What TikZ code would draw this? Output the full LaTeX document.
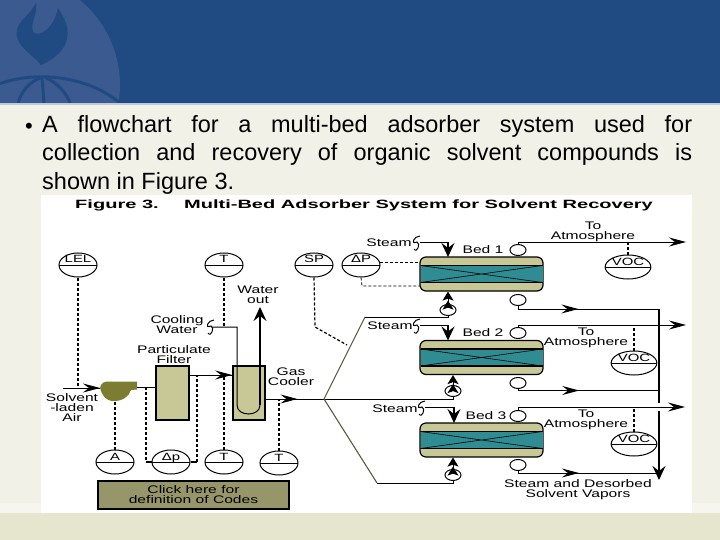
\documentclass[tikz,border=0pt]{standalone}
\usepackage{fontspec}
\usepackage{xcolor}
\usepackage{tikz}
\usetikzlibrary{arrows.meta,positioning,calc,shapes.geometric,decorations.markings}
\setmainfont{Liberation Sans}
\newfontfamily\figfont[FakeStretch=1.42]{Liberation Sans}
\newfontfamily\titlefont[FakeStretch=1.67]{Liberation Sans}
\definecolor{headblue}{RGB}{31,74,130}
\definecolor{logoblue}{RGB}{58,90,144}
\definecolor{bodycream}{RGB}{241,241,231}
\definecolor{stripcream}{RGB}{246,246,238}
\definecolor{footcream}{RGB}{230,230,207}
\definecolor{bedtan}{RGB}{200,200,150}
\definecolor{bedteal}{RGB}{46,140,146}
\definecolor{blowerolive}{RGB}{125,125,50}
\definecolor{buttonolive}{RGB}{151,150,106}
\definecolor{splitgrey}{RGB}{90,90,65}
\tikzset{
  pipe/.style={draw=black,line width=1pt},
  thickpipe/.style={draw=black,line width=1.7pt},
  signal/.style={draw=black,line width=1.2pt,dash pattern=on 3pt off 2pt},
  splitline/.style={draw=splitgrey,line width=1.1pt},
  lbl/.style={font=\figfont\fontsize{11}{10}\selectfont,align=center,inner sep=0pt},
  gauge/.style={ellipse,draw=black,line width=1pt,fill=white,minimum width=38pt,minimum height=24pt,inner sep=0pt,
    font=\figfont\fontsize{10.5}{10.5}\selectfont,
    path picture={\draw[line width=1pt] (path picture bounding box.west)--(path picture bounding box.east);}},
  valve/.style={ellipse,draw=black,line width=1pt,fill=white,minimum width=16pt,minimum height=11pt,inner sep=0pt},
  bedbox/.style={draw=black,line width=1.2pt,fill=bedtan,rounded corners=6pt,minimum width=123pt,minimum height=34pt,inner sep=0pt},
  midarrow/.style={postaction={decorate},decoration={markings,mark=at position #1 with {\arrow{Stealth[length=17pt,width=9pt,inset=6pt]}}}},
  tipflow/.style={-{Stealth[length=17pt,width=9pt,inset=6pt]}},
  tipdown/.style={-{Stealth[length=14pt,width=13pt,inset=5pt]}},
  tipin/.style={-{Stealth[length=9pt,width=11pt,inset=2pt]Stealth[length=9pt,width=11pt,inset=2pt]}}
}
\newcommand{\gaugenode}[3]{\node[gauge] (#1) at #2 {\raisebox{2pt}[0pt][0pt]{#3}};}
\newcommand{\steamsign}[1]{\draw[line width=1pt] #1 ++(3,-7) .. controls ++(-6,0) and ++(-7,3) .. ++(-3,6) .. controls ++(4,1) and ++(3,5) .. ++(-3,7);}
\newcommand{\bedunit}[2]{
\node[bedbox] (#1) at (481.5,#2) {};
\fill[bedteal] (420.5,#2-8.5) rectangle (542.5,#2+8.5);
\draw[line width=1.7pt] (420.5,#2-8.5) -- (542.5,#2-8.5) (420.5,#2+8.5) -- (542.5,#2+8.5);
\draw[line width=0.6pt] (420.5,#2-8.5) -- (542.5,#2+8.5) (420.5,#2+8.5) -- (542.5,#2-8.5);
}
\begin{document}
\begin{tikzpicture}[x=1pt,y=-1pt]
\useasboundingbox (0,0) rectangle (720,540);
\fill[bodycream] (0,0) rectangle (720,540);
\fill[stripcream] (0,503) rectangle (720,513);
\fill[footcream] (0,513) rectangle (720,540);
\fill[headblue] (0,0) rectangle (720,103);
\fill[white!70!headblue] (0,103) rectangle (720,105);
\begin{scope}
\clip (0,0) rectangle (720,103);
\fill[logoblue] (10,85) circle (110);
\fill[headblue] (41,65) .. controls (30,52) and (14,45) .. (17,30) .. controls (19,20) and (30,15) .. (36,3)
  .. controls (38,14) and (30,22) .. (33,32) .. controls (40,38) and (54,28) .. (58,8)
  .. controls (72,28) and (74,50) .. (41,65) -- cycle;
\draw[headblue,line width=3pt] (-10,88) .. controls (20,72) and (80,70) .. (120,103);
\draw[headblue,line width=3pt] (42,77) -- (44,103) (18,103) .. controls (22,90) and (30,82) .. (40,78) (70,103) .. controls (66,92) and (56,82) .. (46,78);
\end{scope}
\node[font=\fontsize{22}{28.5}\selectfont,inner sep=0pt] (bulletmark) at (29,128) {•};
\node[font=\fontsize{23.5}{28.5}\selectfont,text width=650pt,align=justify,inner sep=0pt,anchor=north west] (bodytext) at (42,115)
  {A flowchart for a multi-bed adsorber system used for\linebreak collection and recovery of organic solvent compounds is\linebreak shown in Figure 3.};
\fill[white] (41,195) rectangle (692,513);
\node[font=\titlefont\bfseries\fontsize{12}{12}\selectfont,inner sep=0pt] (figno) at (117,205) {Figure 3.};
\node[font=\titlefont\bfseries\fontsize{12}{12}\selectfont,inner sep=0pt] (figtitle) at (418.5,205) {Multi-Bed Adsorber System for Solvent Recovery};

\bedunit{bedA}{274}
\bedunit{bedB}{357.5}
\bedunit{bedC}{440}

\fill[bedtan,draw=black,line width=1.2pt] (156,366) rectangle (189,420);
\fill[bedtan,draw=black,line width=1.2pt] (233,366) rectangle (265,420);
\fill[blowerolive] (100,388) .. controls (101,383) and (104,381.5) .. (108,381.5) -- (137,381.5) -- (137,389.5) -- (131,390)
  .. controls (129,397) and (122,401) .. (114,401) .. controls (105,401) and (102,395) .. (100,388) -- cycle;
\coordinate (blowerin) at (100,388);
\coordinate (blowerout) at (137,387);

\gaugenode{lel}{(78,265)}{LEL}
\gaugenode{tempA}{(224,265)}{T}
\gaugenode{sp}{(314,265)}{SP}
\gaugenode{dpA}{(361,265)}{ΔP}
\gaugenode{vocA}{(628,267)}{VOC}
\gaugenode{vocB}{(634,363)}{VOC}
\gaugenode{vocC}{(634,444)}{VOC}
\gaugenode{amp}{(115,462)}{A}
\gaugenode{dpB}{(171,462)}{Δp}
\gaugenode{tempB}{(224,462)}{T}
\gaugenode{tempC}{(279,463)}{T}

\node[valve] (topA) at (518,250) {};
\node[valve] (topB) at (518,333) {};
\node[valve] (topC) at (518,416) {};
\node[valve] (botA) at (518,300) {};
\node[valve] (botB) at (518,383) {};
\node[valve] (botC) at (518,465) {};
\node[valve] (inA) at (448,310) {};
\node[valve] (inB) at (453,391) {};
\node[valve] (inC) at (453,475) {};

\node[lbl] (steamA) at (389,243) {Steam};
\node[lbl] (steamB) at (390,326) {Steam};
\node[lbl] (steamC) at (395,409) {Steam};
\node[lbl] (nameA) at (483,250) {Bed 1};
\node[lbl] (nameB) at (483,333) {Bed 2};
\node[lbl] (nameC) at (486,416) {Bed 3};
\node[lbl] (atmA) at (593,232) {To\\Atmosphere};
\node[lbl] (atmB) at (586,338) {To\\Atmosphere};
\node[lbl] (atmC) at (586,420) {To\\Atmosphere};
\node[lbl] (vapors) at (578,489.5) {Steam and Desorbed\\Solvent Vapors};
\node[lbl] (waterout) at (258,295) {Water\\out};
\node[lbl] (coolwater) at (177,325) {Cooling\\Water};
\node[lbl] (filtername) at (174,354.5) {Particulate\\Filter};
\node[lbl] (coolername) at (291,377) {Gas\\Cooler};
\node[lbl] (airname) at (72,408) {Solvent\\-laden\\Air};
\node[draw=black,line width=1.2pt,fill=buttonolive,minimum width=191pt,minimum height=28pt,inner sep=0pt,
  font=\figfont\fontsize{11}{10}\selectfont,align=center] (codes) at (193.5,495) {Click here for\\definition of Codes};

\steamsign{(417,243)}
\steamsign{(417,326)}
\steamsign{(422,408)}
\steamsign{(211,327)}

\coordinate (airstart) at (63,388);
\draw[pipe,midarrow=1] (airstart) -- (blowerin);
\draw[signal] (lel.south) -- (lel.south |- blowerin);
\draw[signal] (amp.north) -- (amp.north |- 0,400);
\draw[pipe] (blowerout) -- (156,387);

\coordinate (dpleft) at (146,462);
\coordinate (dpright) at (197,462);
\draw[signal] (146,387) -- (dpleft);
\draw[signal] (dpright) -- (197,375);
\draw[thickpipe] (dpleft) -- (dpB.west) (dpB.east) -- (dpright);

\coordinate (filterout) at (189,375);
\coordinate (coolerin) at (233,375);
\draw[pipe,midarrow=0.98] (filterout) -- (coolerin);
\draw[signal] (tempB.north) -- (tempB.north |- filterout);

\coordinate (coolfeed) at (212,327);
\draw[pipe] (coolfeed) -- (237,327) -- (237,405) .. controls (237,417) and (260,417) .. (260,405);
\draw[thickpipe,tipdown] (260,405) -- (260,307);
\draw[signal] (tempA.south) -- (tempA.south |- coolfeed);

\coordinate (coolerout) at (265,399);
\coordinate (split) at (324,399);
\draw[pipe,midarrow=0.55] (coolerout) -- (split);
\draw[signal] (tempC.north) -- (tempC.north |- coolerout);
\draw[pipe] (split) -- (453,399) -- (inB.south);
\draw[tipin,line width=1pt] (inB.north) -- (inB.north |- bedB.south);
\coordinate (splitup) at (365,317);
\coordinate (splitdown) at (377,483);
\draw[splitline] (split) -- (splitup);
\draw[splitline] (split) -- (splitdown);
\draw[pipe] (splitup) -- (splitup -| inA) -- (inA.south);
\draw[pipe] (splitdown) -- (splitdown -| inC) -- (inC.south);
\draw[tipin,line width=1pt] (inA.north) -- (inA.north |- bedA.south);
\draw[tipin,line width=1pt] (inC.north) -- (inC.north |- bedC.south);

\draw[signal] (sp.south) -- (315,327) -- (347,345);
\coordinate (dpAright) at (380,262);
\draw[signal,line width=0.8pt] (dpAright) -- (420,262);
\draw[signal,line width=0.8pt] (dpA.south) -- (362,286) -- (420,286);

\draw[pipe] (420,242) -- (448,242);
\draw[pipe] (420,325) -- (448,325);
\draw[pipe] (425,407) -- (454,407);
\draw[tipdown,line width=1.1pt] (448,242) -- (448,257);
\draw[tipdown,line width=1.1pt] (448,325) -- (448,340.5);
\draw[tipdown,line width=1.1pt] (454,407) -- (454,423);

\coordinate (ventA) at (686,242);
\coordinate (ventB) at (686,325);
\coordinate (ventC) at (685,407);
\draw[pipe] (topA.north) -- (518,242);
\draw[pipe] (topB.north) -- (518,325);
\draw[pipe] (topC.north) -- (518,407);
\draw[pipe,tipflow] (518,242) -- (ventA);
\draw[pipe,tipflow] (518,325) -- (ventB);
\draw[pipe,tipflow] (518,407) -- (ventC);
\draw[signal] (vocA.north) -- (628,242);
\draw[signal] (vocB.north) -- (634,325);
\draw[signal] (vocC.north) -- (634,407);

\coordinate (headerA) at (659,309);
\coordinate (headerB) at (659,390.5);
\coordinate (headerC) at (659,473);
\draw[pipe,midarrow=0.44] (botA.south) -- (518,309) -- (headerA);
\draw[pipe,midarrow=0.44] (botB.south) -- (518,390.5) -- (headerB);
\draw[pipe,midarrow=0.44] (botC.south) -- (518,473) -- (headerC);
\draw[thickpipe] (headerA) -- (659,403);
\draw[thickpipe,tipdown] (659,411) -- (659,480);
\end{tikzpicture}
\end{document}
